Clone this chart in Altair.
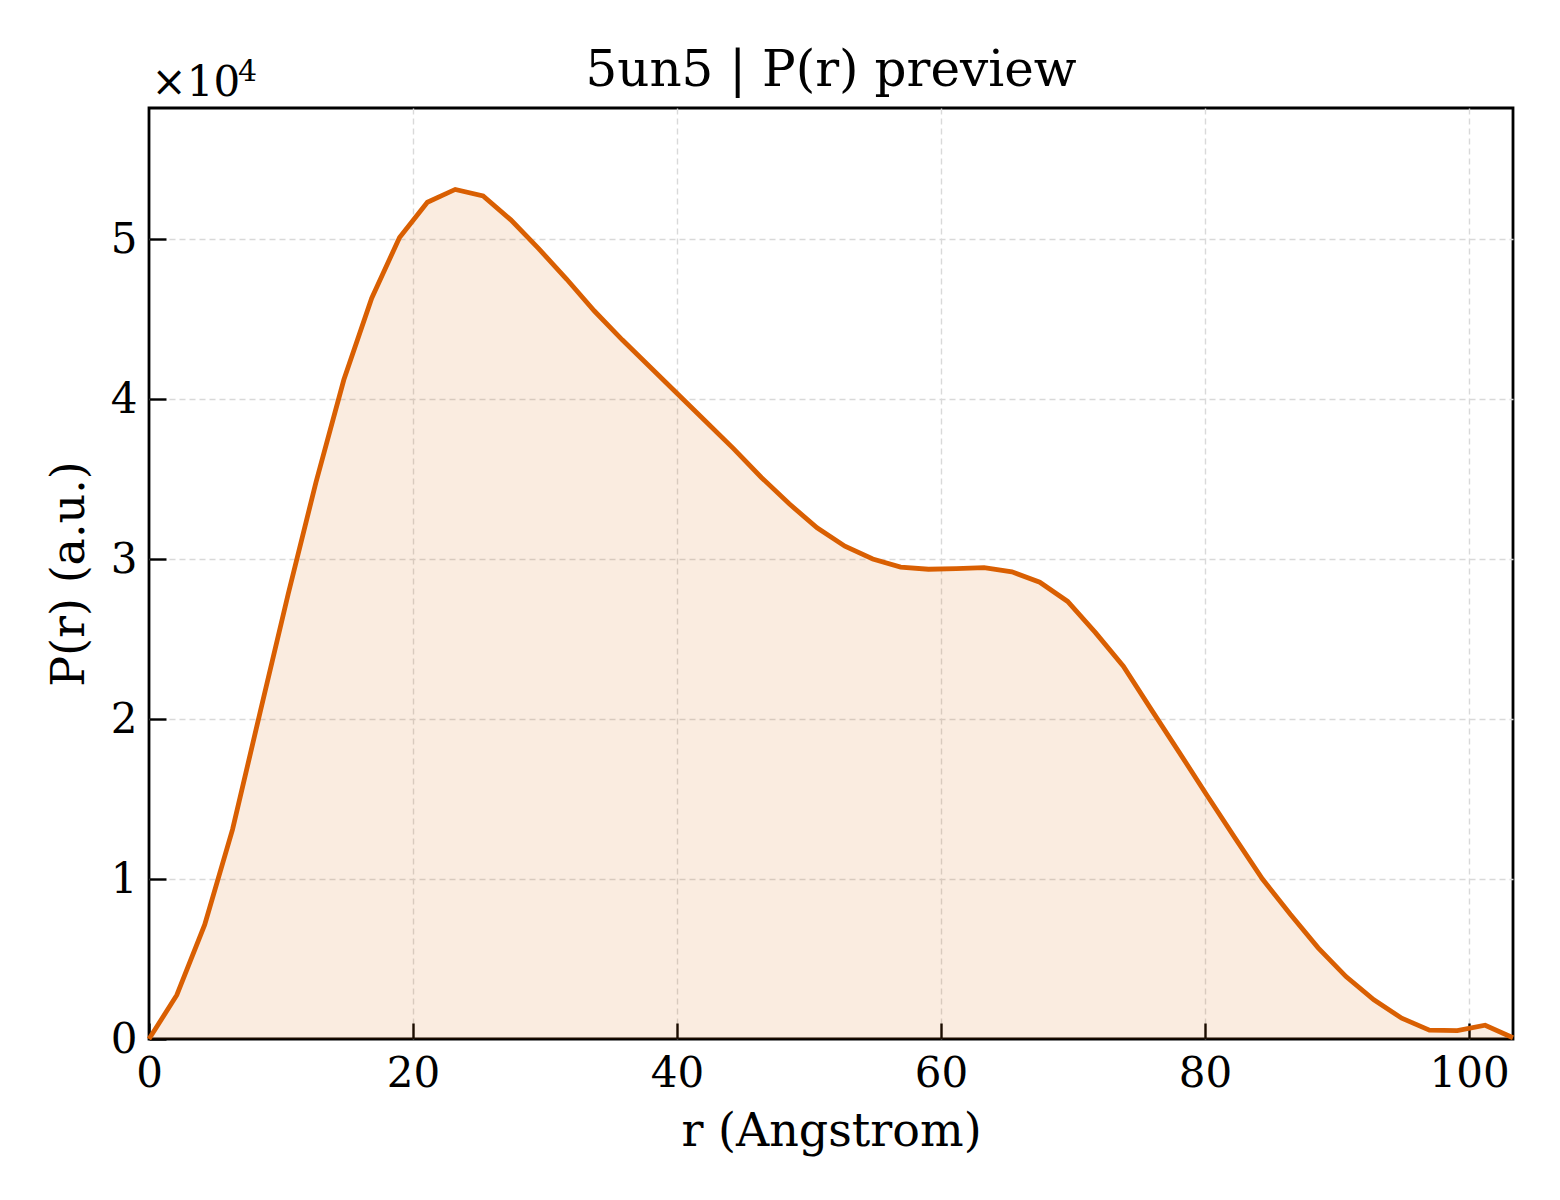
import pandas as pd
import altair as alt

r_angstrom = [0.00, 2.11, 4.22, 6.33, 8.44, 10.54, 12.65, 14.76, 16.87, 18.98,
              21.09, 23.20, 25.31, 27.41, 29.52, 31.63, 33.74, 35.85, 37.96, 40.07,
              42.18, 44.28, 46.39, 48.50, 50.61, 52.72, 54.83, 56.94, 59.05, 61.15,
              63.26, 65.37, 67.48, 69.59, 71.70, 73.81, 75.92, 78.02, 80.13, 82.24,
              84.35, 86.46, 88.57, 90.68, 92.79, 94.90, 97.00, 99.11, 101.22, 103.33]
p_r = [0, 2750, 7150, 13100, 20500, 27800, 34800, 41200, 46300, 50100,
       52300, 53100, 52700, 51200, 49400, 47500, 45500, 43700, 42000, 40300,
       38600, 36900, 35100, 33450, 31950, 30800, 30000, 29500, 29360, 29400,
       29460, 29200, 28550, 27350, 25400, 23300, 20600, 17950, 15250, 12600,
       10000, 7800, 5700, 3900, 2450, 1300, 550, 520, 860, 80]

x_ticks = [0, 20, 40, 60, 80, 100]
y_ticks = [0, 10000, 20000, 30000, 40000, 50000]
title_str = "5un5 | P(r) preview"
line_col = "#D95F02"
font = "DejaVu Serif"

W, H = 1364, 931

source = pd.DataFrame({"r": r_angstrom, "P": p_r})

# no grid line on top of the frame at 0
grid_op = {"condition": {"test": "datum.value === 0", "value": 0}, "value": 1}

x_enc = alt.X("r:Q", scale=alt.Scale(domain=[0, 103.33], nice=False, zero=False),
              axis=alt.Axis(values=x_ticks, title="r (Angstrom)", offset=-16, tickSize=16,
                            labelPadding=14, titlePadding=15, labelFlush=False,
                            gridOpacity=grid_op))
y_enc = alt.Y("P:Q", scale=alt.Scale(domain=[0, 58190], nice=False),
              axis=alt.Axis(values=y_ticks, title="P(r) (a.u.)", offset=-17, tickSize=17,
                            labelPadding=12, titlePadding=17, gridOpacity=grid_op,
                            labelExpr="format(datum.value / 10000, 'd')"))

base = alt.Chart(source).encode(x=x_enc, y=y_enc)
fill = base.mark_area(color=line_col, fillOpacity=0.12)
line = base.mark_line(color=line_col, strokeWidth=4.8)

# title and the y offset text ("x10^4") as plain text marks
def label(txt, size, **kw):
    return alt.Chart(pd.DataFrame({"t": [txt]})).mark_text(
        baseline="alphabetic", font=font, fontSize=size, color="black", **kw
    ).encode(text="t:N")

title = label(title_str, 50, align="center").encode(x=alt.value(W / 2), y=alt.value(-22))
expo = label("×10", 42, align="left").encode(x=alt.value(2.5), y=alt.value(-12))
expo4 = label("4", 30, align="left").encode(x=alt.value(89), y=alt.value(-27))

chart = alt.layer(fill, line, title, expo, expo4).properties(
    width=W, height=H,
    autosize=alt.AutoSizeParams(type="none"),
    padding={"left": 141, "top": 100, "right": 39, "bottom": 145}
).configure_view(stroke="black", strokeWidth=2.8
).configure_axis(grid=True, gridColor="#d9d9d9", gridDash=[6, 4], gridWidth=1.4,
                 domain=False, tickColor="black", tickWidth=2.4,
                 labelFont=font, labelFontSize=42, labelColor="black", labelOverlap=False,
                 titleFont=font, titleFontSize=46, titleFontWeight="normal", titleColor="black")

chart.save("out.html", embed_options={"renderer": "svg", "actions": False})
